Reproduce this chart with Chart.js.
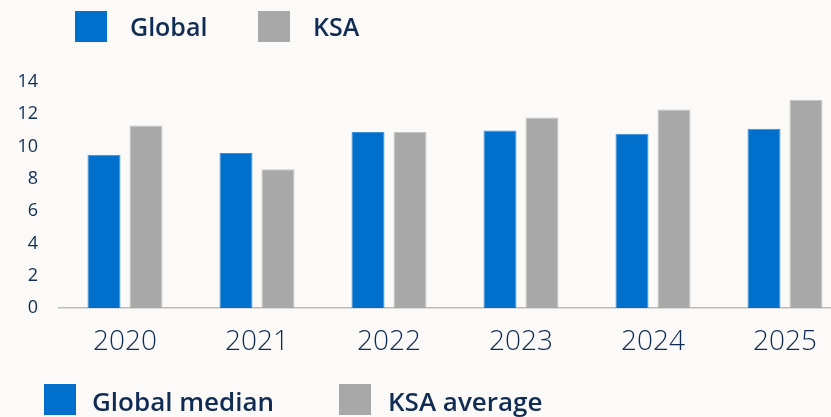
<!DOCTYPE html>
<html>
<head>
<meta charset="utf-8">
<script src="https://cdn.jsdelivr.net/npm/chart.js@4/dist/chart.umd.min.js"></script>
<style>
  html, body { margin: 0; padding: 0; background: #fbfaf8; overflow: hidden; }
  #wrap { position: relative; width: 831px; height: 417px; overflow: hidden; }
  #box { position: absolute; left: 0; top: 0; width: 851px; height: 417px; }
  .sw { position: absolute; width: 32px; height: 31px; }
  .lb { position: absolute; font-family: "Open Sans", sans-serif; font-weight: 600;
        color: #102c55; line-height: 1; white-space: nowrap; }
</style>
</head>
<body>
<div id="wrap">
  <div id="box"><canvas id="c"></canvas></div>
  <div class="sw" style="left:75px;top:11px;background:#0070cc"></div>
  <div class="lb" style="left:130px;top:14px;font-size:25px">Global</div>
  <div class="sw" style="left:258px;top:11px;background:#a8a8a8"></div>
  <div class="lb" style="left:313px;top:14px;font-size:25px">KSA</div>
  <div class="sw" style="left:44px;top:384px;background:#0070cc"></div>
  <div class="lb" style="left:92px;top:388px;font-size:26px">Global median</div>
  <div class="sw" style="left:339px;top:384px;background:#a8a8a8"></div>
  <div class="lb" style="left:388px;top:388px;font-size:26px">KSA average</div>
</div>
<script>
const years = ['2020', '2021', '2022', '2023', '2024', '2025']
const globalMedian = [9.5, 9.6, 10.9, 11.0, 10.8, 11.1]
const ksaAverage = [11.3, 8.6, 10.9, 11.8, 12.3, 12.9]
const yTicks = [0, 2, 4, 6, 8, 10, 12, 14]

const textColor = "#102c55"

new Chart(document.getElementById('c'), {
    type: 'bar',
    data: {
        labels: years,
        datasets: [
            {label: 'Global median', data: globalMedian, backgroundColor: '#0070cc',
             borderColor: '#3d8fd8', borderWidth: 1},
            {label: 'KSA average', data: ksaAverage, backgroundColor: '#a8a8a8',
             borderColor: '#c4c4c4', borderWidth: 1}
        ]
    },
    options: {
        responsive: true,
        maintainAspectRatio: false,
        animation: false,
        categoryPercentage: 84/132,
        barPercentage: 33/42,
        layout: {padding: {top: 82, bottom: 0, left: 0, right: 0}},
        scales: {
            x: {
                grid: {display: false, drawTicks: false},
                border: {display: true, color: '#bdbdbd', width: 1.5},
                ticks: {
                    color: textColor,
                    padding: 17,
                    font: {family: "'Open Sans', sans-serif", size: 28, weight: 300}
                },
                afterFit: function(scale) { scale.height = 109 }
            },
            y: {
                min: 0,
                max: 14,
                afterBuildTicks: function(scale) {
                    scale.ticks = yTicks.map(v => ({value: v}))
                },
                grid: {display: false, drawTicks: false},
                border: {display: false},
                ticks: {
                    color: textColor,
                    padding: 21,
                    font: {family: "'Open Sans', sans-serif", size: 18}
                },
                afterFit: function(scale) { scale.width = 59 }
            }
        },
        plugins: {
            legend: {display: false},
            tooltip: {enabled: false}
        }
    }
})
</script>
</body>
</html>
